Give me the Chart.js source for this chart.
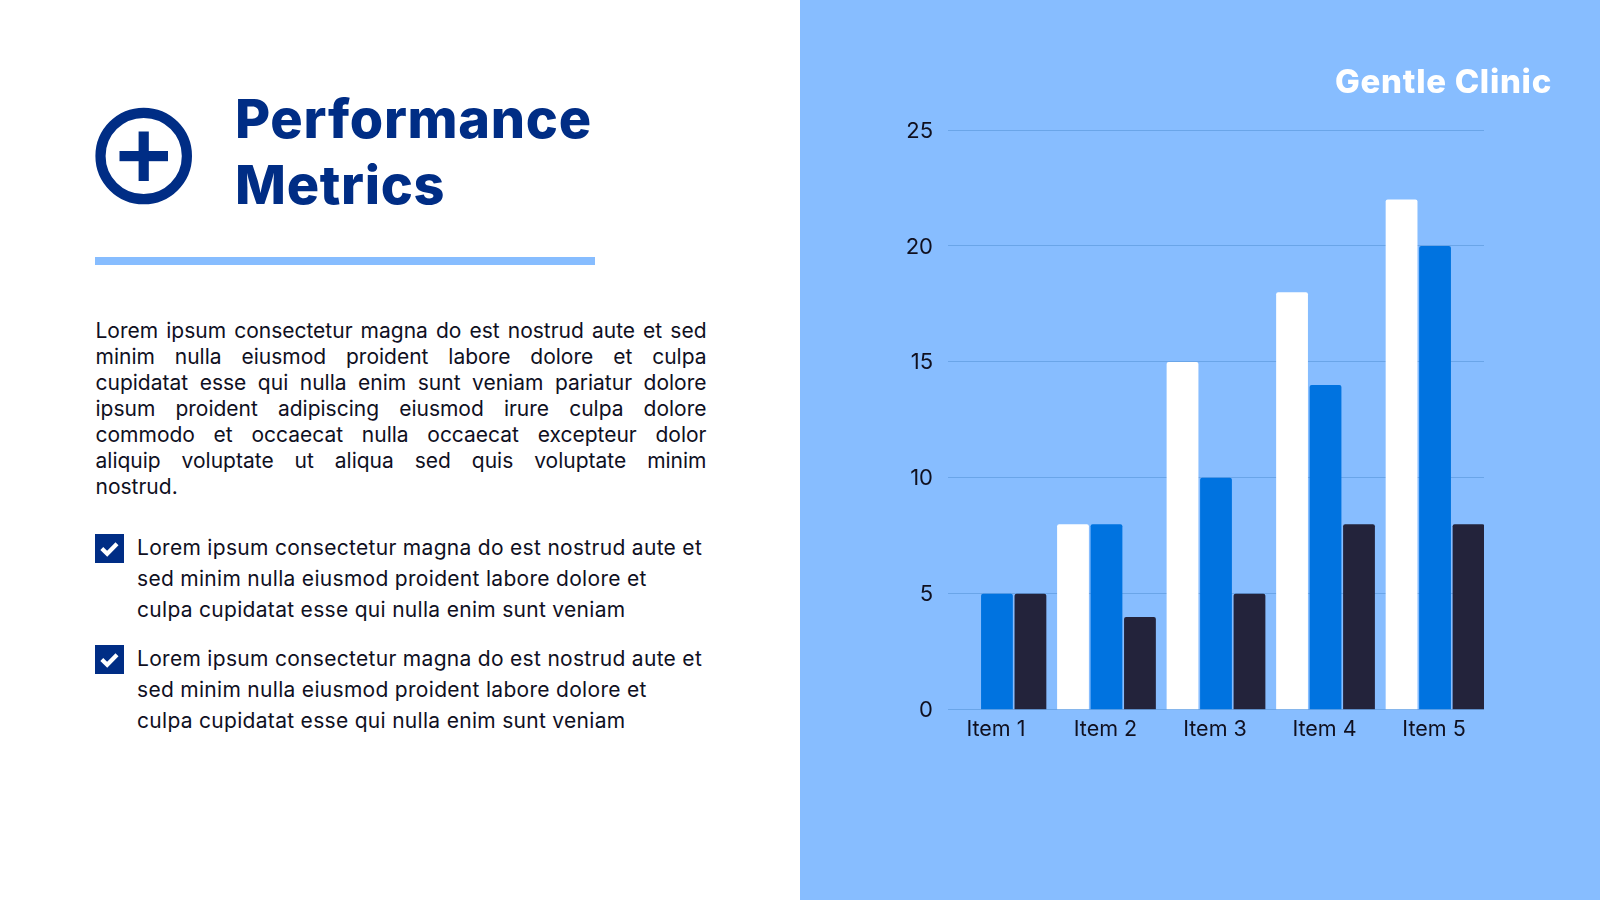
<!DOCTYPE html>
<html>
<head>
<meta charset="utf-8">
<title>Performance Metrics</title>
<script src="https://cdn.jsdelivr.net/npm/chart.js@4"></script>
<style>
html, body { margin: 0; padding: 0; background: #fff; }
body { width: 1600px; height: 900px; position: relative; overflow: hidden; font-family: Inter, sans-serif; color: #10101f; }
#panel { position: absolute; left: 800px; top: 0; width: 800px; height: 900px; background: #87bdff; }
#myChart { position: absolute; left: 0; top: 0; }
.t { position: absolute; white-space: nowrap; }
.title { left: 235px; font-size: 54px; line-height: 66px; font-weight: 800; color: #002d85; letter-spacing: 0.7px; }
#brand { left: 1335px; top: 61px; font-size: 33px; line-height: 40px; font-weight: 800; color: #fff; letter-spacing: 0.7px; }
#rule { position: absolute; left: 95px; top: 257px; width: 500px; height: 8px; background: #87bdff; }
.body { left: 95.5px; width: 611px; font-size: 21px; line-height: 26px; white-space: normal; text-align: justify; text-align-last: justify; }
.last { text-align-last: left; }
.li { left: 137px; font-size: 21px; line-height: 31px; letter-spacing: 0.3px; }
.check { position: absolute; left: 95px; width: 29px; height: 29px; }
</style>
</head>
<body>
<svg style="position:absolute;left:0;top:0" width="300" height="300">
  <circle cx="143.7" cy="156" r="43.2" fill="none" stroke="#002d85" stroke-width="10.2"/>
  <rect x="119.5" y="151" width="48.5" height="10.2" fill="#002d85"/>
  <rect x="138.6" y="131.5" width="10.2" height="49.5" fill="#002d85"/>
</svg>
<div class="t title" style="top:86px">Performance</div>
<div class="t title" style="top:152px">Metrics</div>
<div id="rule"></div>

<div class="t body" style="top:318px">Lorem ipsum consectetur magna do est nostrud aute et sed</div>
<div class="t body" style="top:344px">minim nulla eiusmod proident labore dolore et culpa</div>
<div class="t body" style="top:370px">cupidatat esse qui nulla enim sunt veniam pariatur dolore</div>
<div class="t body" style="top:396px">ipsum proident adipiscing eiusmod irure culpa dolore</div>
<div class="t body" style="top:422px">commodo et occaecat nulla occaecat excepteur dolor</div>
<div class="t body" style="top:448px">aliquip voluptate ut aliqua sed quis voluptate minim</div>
<div class="t body last" style="top:474px">nostrud.</div>

<svg class="check" style="top:534px" viewBox="0 0 29 29"><rect width="29" height="29" fill="#002d85"/><path d="M6.8 14.6 L12.2 19.8 L22 9.8" fill="none" stroke="#fff" stroke-width="4.2"/></svg>
<div class="t li" style="top:532px">Lorem ipsum consectetur magna do est nostrud aute et</div>
<div class="t li" style="top:563px">sed minim nulla eiusmod proident labore dolore et</div>
<div class="t li" style="top:594px">culpa cupidatat esse qui nulla enim sunt veniam</div>

<svg class="check" style="top:645px" viewBox="0 0 29 29"><rect width="29" height="29" fill="#002d85"/><path d="M6.8 14.6 L12.2 19.8 L22 9.8" fill="none" stroke="#fff" stroke-width="4.2"/></svg>
<div class="t li" style="top:643px">Lorem ipsum consectetur magna do est nostrud aute et</div>
<div class="t li" style="top:674px">sed minim nulla eiusmod proident labore dolore et</div>
<div class="t li" style="top:705px">culpa cupidatat esse qui nulla enim sunt veniam</div>

<div id="panel"><canvas id="myChart" width="800" height="900" style="width:800px;height:900px"></canvas></div>
<div class="t" id="brand">Gentle Clinic</div>

<script>
const categories = ['Item 1', 'Item 2', 'Item 3', 'Item 4', 'Item 5'];
const series_white = [0, 8, 15, 18, 22];
const series_blue = [5, 8, 10, 14, 20];
const series_dark = [5, 4, 5, 8, 8];
const y_ticks_max = 25;

function toPoints(list_values) {
    return list_values.map((v, i) => ({ x: i, y: v }));
}

function barDataset(list_values, color) {
    return {
        data: toPoints(list_values),
        backgroundColor: color,
        borderRadius: 2,
        borderSkipped: 'bottom',
        categoryPercentage: 0.917,
        barPercentage: 0.95,
    };
}

const ctx = document.getElementById('myChart');
new Chart(ctx, {
    type: 'bar',
    data: {
        datasets: [
            barDataset(series_white, '#ffffff'),
            barDataset(series_blue, '#0073e0'),
            barDataset(series_dark, '#23233b'),
        ],
    },
    options: {
        responsive: false,
        animation: false,
        layout: { padding: { top: 130, right: 116, bottom: 0, left: 0 } },
        plugins: { legend: { display: false }, tooltip: { enabled: false } },
        scales: {
            // linear so the groups can sit flush with both ends of the plot
            x: {
                type: 'linear',
                offset: false,
                min: -0.447,
                max: 4.447,
                grid: { display: false, drawTicks: false },
                border: { display: false },
                afterBuildTicks: (scale) => {
                    scale.ticks = categories.map((c, i) => ({ value: i }));
                },
                afterFit: (scale) => { scale.height = 190.3; },
                ticks: {
                    callback: (value) => categories[value],
                    autoSkip: false,
                    maxRotation: 0,
                    padding: 7,
                    labelOffset: -1,
                    color: '#10101f',
                    font: { family: 'Inter', size: 21.5 },
                },
            },
            y: {
                min: 0,
                max: y_ticks_max,
                grid: { color: '#6aa5e8', lineWidth: 1, drawTicks: false },
                border: { display: false },
                afterFit: (scale) => { scale.width = 148; },
                ticks: {
                    stepSize: 5,
                    padding: 15,
                    labelOffset: 1,
                    color: '#10101f',
                    font: { family: 'Inter', size: 22 },
                },
            },
        },
    },
});
</script>
</body>
</html>
